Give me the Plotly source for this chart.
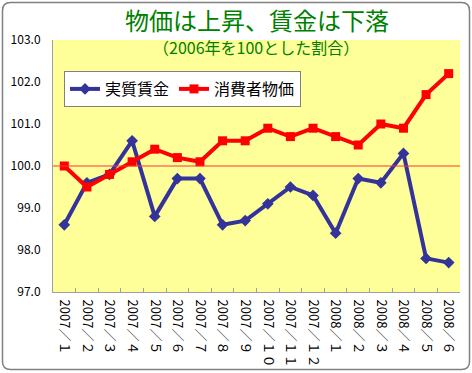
import plotly.graph_objects as go

categories = ["2007/1", "2007/2", "2007/3", "2007/4", "2007/5", "2007/6", "2007/7", "2007/8",
              "2007/9", "2007/10", "2007/11", "2007/12", "2008/1", "2008/2", "2008/3", "2008/4",
              "2008/5", "2008/6"]
real_wage = [98.6, 99.6, 99.8, 100.6, 98.8, 99.7, 99.7, 98.6, 98.7, 99.1, 99.5, 99.3,
             98.4, 99.7, 99.6, 100.3, 97.8, 97.7]
cpi = [100.0, 99.5, 99.8, 100.1, 100.4, 100.2, 100.1, 100.6, 100.6, 100.9, 100.7, 100.9,
       100.7, 100.5, 101.0, 100.9, 101.7, 102.2]
y_ticks = [97.0, 98.0, 99.0, 100.0, 101.0, 102.0, 103.0]
base_value = 100.0

# tick labels as displayed (full-width slash and month digits)
_fw = str.maketrans("0123456789/", "０１２３４５６７８９／")
tick_labels = [c.split("/")[0] + ("/" + c.split("/")[1]).translate(_fw) for c in categories]

W, H = 472, 373
L, R, T, B = 53, 12, 40, 81
pw, ph = W - L - R, H - T - B

def px(x):
    return (x - L) / pw

def py(y):
    return (H - B - y) / ph

font = "Noto Sans CJK JP, Liberation Sans, sans-serif"

fig = go.Figure()
fig.add_trace(go.Scatter(x=categories, y=real_wage, name="実質賃金", mode="lines+markers",
                         line=dict(color="#333399", width=4),
                         marker=dict(symbol="diamond", size=9, color="#333399")))
fig.add_trace(go.Scatter(x=categories, y=cpi, name="消費者物価", mode="lines+markers",
                         line=dict(color="#FF0000", width=4),
                         marker=dict(symbol="square", size=9, color="#FF0000")))

# outer rounded frame
x0, x1 = px(2.5), px(469.5)
y0, y1 = py(369.5), py(2.5)
rx, ry = 8 / pw, 8 / ph
path = (f"M {x0+rx},{y1} L {x1-rx},{y1} Q {x1},{y1} {x1},{y1-ry} "
        f"L {x1},{y0+ry} Q {x1},{y0} {x1-rx},{y0} L {x0+rx},{y0} "
        f"Q {x0},{y0} {x0},{y0+ry} L {x0},{y1-ry} Q {x0},{y1} {x0+rx},{y1} Z")
fig.add_shape(type="path", path=path, xref="paper", yref="paper",
              line=dict(color="#808080", width=1.5), layer="below")
fig.add_shape(type="line", xref="paper", yref="y", x0=0, x1=1, y0=base_value, y1=base_value,
              line=dict(color="#FF3333", width=1))

fig.add_annotation(text="（2006年を100とした割合）", xref="paper", yref="paper",
                   x=px(256), y=py(47), showarrow=False, yanchor="middle",
                   font=dict(size=16, color="#008000", family=font))

fig.update_layout(
    width=W, height=H,
    margin=dict(l=L, r=R, t=T, b=B, autoexpand=False),
    paper_bgcolor="white", plot_bgcolor="#FFFF99",
    title=dict(text="物価は上昇、賃金は下落", x=px(257), xanchor="center", xref="paper",
               y=1 - 22 / H, yanchor="middle",
               font=dict(size=24, color="#008000", family=font)),
    font=dict(family=font, color="black"),
    legend=dict(x=px(64), y=py(71), xanchor="left", yanchor="top", orientation="h",
                bgcolor="white", bordercolor="#808080", borderwidth=1,
                font=dict(size=16, color="black"), itemwidth=30,
                tracegroupgap=0),
    showlegend=True,
)
fig.update_xaxes(type="category", tickangle=90, showline=True, linecolor="#A0A0A0",
                 ticks="inside", tickson="boundaries", ticklen=4, tickcolor="#A0A0A0",
                 showgrid=False, tickfont=dict(size=13, color="black"),
                 tickvals=categories, ticktext=tick_labels, automargin=False,
                 ticklabelstandoff=4, range=[-0.5, len(categories) - 0.5])
fig.update_yaxes(range=[97, 103], tickvals=y_ticks, tickformat=".1f", showline=True,
                 linecolor="#A0A0A0", showgrid=False, zeroline=False, automargin=False,
                 tickfont=dict(size=12, color="black"), ticks="", ticklabelstandoff=9)

fig.write_html("out.html", config={"displayModeBar": False},
               post_script="document.body.style.margin='0px';document.body.style.overflow='hidden';")
